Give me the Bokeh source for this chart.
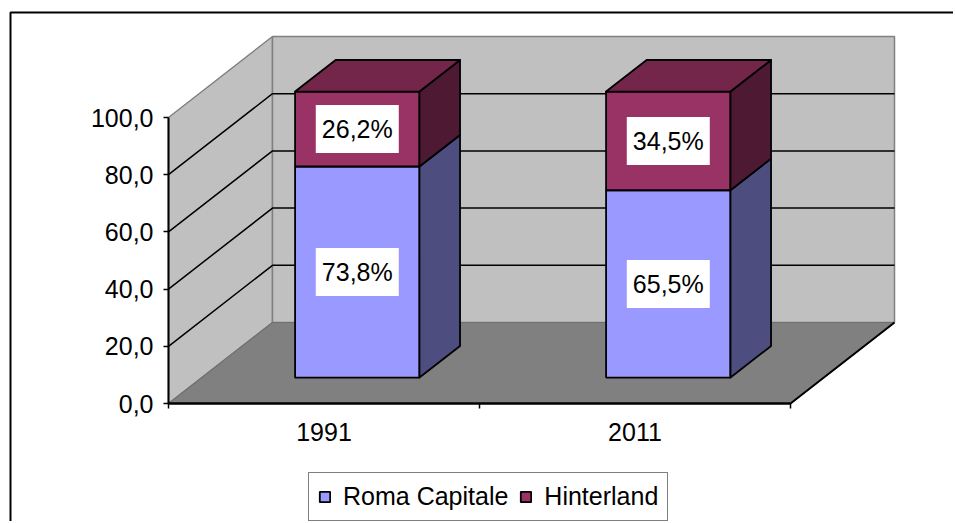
from bokeh.plotting import figure
from bokeh.models import Range1d, LinearAxis, FixedTicker, Legend, LegendItem
from bokeh.embed import file_html
from bokeh.resources import INLINE
from bokeh.core.properties import value

# ---------------- data ----------------
categories = ["1991", "2011"]
roma = [73.8, 65.5]
hinterland = [26.2, 34.5]
series_names = ["Roma Capitale", "Hinterland"]
y_ticks = [0, 20, 40, 60, 80, 100]
y_tick_labels = ["0,0", "20,0", "40,0", "60,0", "80,0", "100,0"]

# ---------------- layout / style ----------------
W, H = 953, 521
PX_X = 311.0      # px per category
PX_Y = 2.86       # px per value unit
X0 = 168          # frame px of category 0
Y0 = 403          # frame px (from top) of value 0
DX = 104 / PX_X   # depth vector (data units)
DY = 81 / PX_Y
HALF_W = 0.2
D0, D1 = 0.32, 0.71
FONT_NAME = "Liberation Sans"
FONT = value(FONT_NAME)
FS = "25px"

front_colors = ["#9999FF", "#993366"]
side_colors = ["#4D4D80", "#4D1933"]
top_color = "#732649"

x_range = Range1d(-X0 / PX_X, (W - X0) / PX_X)
y_range = Range1d(-(H - Y0) / PX_Y, Y0 / PX_Y)

p = figure(width=W, height=H, x_range=x_range, y_range=y_range,
           output_backend="svg", toolbar_location=None, min_border=0,
           x_axis_type=None, y_axis_type=None)
p.outline_line_color = None
p.background_fill_color = "white"
p.border_fill_color = "white"

n = len(categories)
vmax = y_ticks[-1]

# walls and floor
p.patch([0, DX, DX, 0], [0, DY, vmax + DY, vmax], fill_color="#C0C0C0",
        line_color="#808080", line_width=1.5)
p.quad(left=DX, right=n + DX, bottom=DY, top=vmax + DY, fill_color="#C0C0C0",
       line_color="#808080", line_width=1.5)
p.patch([0, n, n + DX, DX], [0, 0, DY, DY], fill_color="#808080",
        line_color="#707070", line_width=1.2)
p.line([0, n, n + DX], [0, 0, DY], line_color="black", line_width=2)

# gridlines
gx = [[0, DX, n + DX] for v in y_ticks[1:-1]]
gy = [[v, v + DY, v + DY] for v in y_ticks[1:-1]]
p.multi_line(gx, gy, line_color="black", line_width=1.5)

# bars
centers = [i + 0.5 for i in range(n)]
series = [roma, hinterland]
bottoms = [0.0] * n
front_renderers = []
lab_x, lab_y, lab_t = [], [], []
for s, vals in enumerate(series):
    tops = [b + v for b, v in zip(bottoms, vals)]
    left = [c - HALF_W + D0 * DX for c in centers]
    right = [c + HALF_W + D0 * DX for c in centers]
    r = p.quad(left=left, right=right,
               bottom=[b + D0 * DY for b in bottoms],
               top=[t + D0 * DY for t in tops],
               fill_color=front_colors[s], line_color="black", line_width=1.8)
    front_renderers.append(r)
    xs = [[c + HALF_W + D0 * DX, c + HALF_W + D1 * DX, c + HALF_W + D1 * DX, c + HALF_W + D0 * DX]
          for c in centers]
    ys = [[b + D0 * DY, b + D1 * DY, t + D1 * DY, t + D0 * DY] for b, t in zip(bottoms, tops)]
    p.patches(xs, ys, fill_color=side_colors[s], line_color="black", line_width=1.8,
              line_join="round")
    for c, b, t, v in zip(centers, bottoms, tops, vals):
        lab_x.append(c + D0 * DX)
        lab_y.append((b + t) / 2 + D0 * DY)
        lab_t.append(f"{v:.1f}%".replace(".", ","))
    bottoms = tops

xs = [[c - HALF_W + D0 * DX, c + HALF_W + D0 * DX, c + HALF_W + D1 * DX, c - HALF_W + D1 * DX]
      for c in centers]
ys = [[t + D0 * DY, t + D0 * DY, t + D1 * DY, t + D1 * DY] for t in bottoms]
p.patches(xs, ys, fill_color=top_color, line_color="black", line_width=1.8, line_join="round")

# data labels
p.rect(x=lab_x, y=lab_y, width=83, height=48, width_units="screen", height_units="screen",
       fill_color="white", line_color=None)
p.text(x=lab_x, y=lab_y, text=lab_t, text_align="center", text_baseline="middle",
       text_font=FONT, text_font_size=FS, text_color="black")

# chart border (left and top)
bx = (10 - X0) / PX_X
by = (Y0 - 12) / PX_Y
p.line([bx, bx, x_range.end + 1], [y_range.start - 1, by, by], line_color="black", line_width=2)

# axes
yaxis = LinearAxis(fixed_location=0, bounds=(0, vmax), ticker=FixedTicker(ticks=y_ticks),
                   major_label_overrides={t: l for t, l in zip(y_ticks, y_tick_labels)},
                   major_tick_out=5, major_tick_in=0, minor_tick_out=0, minor_tick_in=0,
                   axis_line_width=2, axis_line_color="black", major_tick_line_width=1.5,
                   major_label_text_font=FONT_NAME, major_label_text_font_size=FS,
                   major_label_text_color="black", major_label_standoff=10)
p.add_layout(yaxis, "left")

xticks_axis = LinearAxis(fixed_location=0, bounds=(0, n),
                         ticker=FixedTicker(ticks=list(range(n + 1))),
                         major_tick_out=5, major_tick_in=0, minor_tick_out=0, minor_tick_in=0,
                         axis_line_width=2, axis_line_color="black", major_tick_line_width=1.5,
                         major_label_text_color=None)
p.add_layout(xticks_axis, "below")

xlab_axis = LinearAxis(fixed_location=0, ticker=FixedTicker(ticks=centers),
                       major_label_overrides={c: cat for c, cat in zip(centers, categories)},
                       axis_line_color=None, major_tick_line_color=None,
                       minor_tick_line_color=None, major_tick_out=0, major_tick_in=0,
                       major_label_text_font=FONT_NAME, major_label_text_font_size=FS,
                       major_label_text_color="black", major_label_standoff=19)
p.add_layout(xlab_axis, "below")

legend = Legend(items=[LegendItem(label=nm, renderers=[r])
                       for nm, r in zip(series_names, front_renderers)],
                orientation="horizontal", location=(308, 0),
                glyph_width=13, glyph_height=13, label_standoff=12, spacing=11,
                padding=9, margin=0, border_line_color="black", border_line_width=1.5,
                background_fill_color="white", background_fill_alpha=1,
                label_text_font=FONT_NAME, label_text_font_size=FS, label_text_color="black")
p.add_layout(legend)

open("out.html", "w").write(file_html(p, INLINE))
